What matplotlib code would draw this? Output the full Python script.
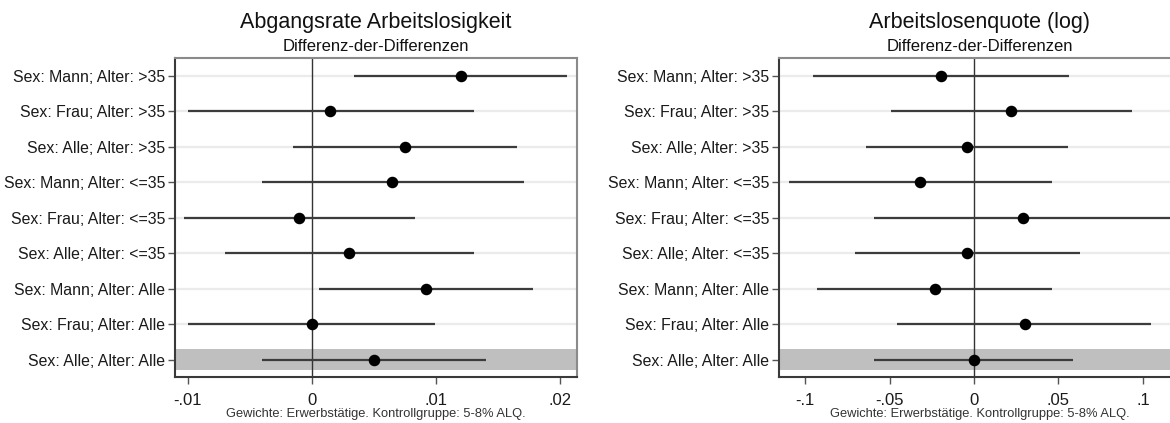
import numpy as np
import matplotlib.pyplot as plt

plt.rcParams['font.family'] = ['Liberation Sans', 'DejaVu Sans']

labels = ["Sex: Mann; Alter: >35", "Sex: Frau; Alter: >35", "Sex: Alle; Alter: >35",
          "Sex: Mann; Alter: <=35", "Sex: Frau; Alter: <=35", "Sex: Alle; Alter: <=35",
          "Sex: Mann; Alter: Alle", "Sex: Frau; Alter: Alle", "Sex: Alle; Alter: Alle"]

# Abgangsrate Arbeitslosigkeit
abg_est = [0.0120, 0.0015, 0.0075, 0.0065, -0.0010, 0.0030, 0.0092, 0.0000, 0.0050]
abg_lo = [0.0034, -0.0100, -0.0015, -0.0040, -0.0103, -0.0070, 0.0006, -0.0100, -0.0040]
abg_hi = [0.0206, 0.0131, 0.0165, 0.0171, 0.0083, 0.0131, 0.0178, 0.0099, 0.0140]
abg_ticks = [-0.01, 0, 0.01, 0.02]
abg_ticklabels = ["-.01", "0", ".01", ".02"]

# Arbeitslosenquote (log)
alq_est = [-0.0193, 0.0220, -0.0044, -0.0321, 0.0290, -0.0040, -0.0231, 0.0299, 0.0000]
alq_lo = [-0.0952, -0.0492, -0.0640, -0.1097, -0.0589, -0.0703, -0.0932, -0.0457, -0.0589]
alq_hi = [0.0565, 0.0936, 0.0554, 0.0459, 0.118, 0.0625, 0.0460, 0.1045, 0.0586]
alq_ticks = [-0.1, -0.05, 0, 0.05, 0.1]
alq_ticklabels = ["-.1", "-.05", "0", ".05", ".1"]

footnote = "Gewichte: Erwerbstätige. Kontrollgruppe: 5-8% ALQ."

fig = plt.figure(figsize=(11.7, 4.23), dpi=100)


def panel(rect, est, lo, hi, xlim, ticks, ticklabels, title):
    ax = fig.add_axes(rect)
    y = np.arange(1, len(labels) + 1)
    for yy in y:
        ax.axhline(yy, color='#ebebeb', lw=1.6, zorder=0)
    ax.axhspan(y[-1] - 0.3, y[-1] + 0.3, color='#bfbfbf', lw=0, zorder=1)
    ax.axvline(0, color='#333333', lw=1.0, zorder=2)
    ax.hlines(y, lo, hi, color='#3c3c3c', lw=1.6, zorder=3)
    ax.plot(est, y, 'o', color='black', ms=7.3, zorder=4)
    ax.set_ylim(len(labels) + 0.5, 0.5)
    ax.set_xlim(*xlim)
    ax.set_yticks(y)
    ax.set_yticklabels(labels, fontsize=11.4, color='#1a1a1a')
    ax.set_xticks(ticks)
    ax.set_xticklabels(ticklabels, fontsize=12, color='#1a1a1a')
    ax.tick_params(axis='y', length=5, width=1, color='#555555', pad=2)
    ax.tick_params(axis='x', length=5, width=1, color='#555555', pad=6)
    for s in ['left', 'bottom']:
        ax.spines[s].set_color('#3a3a3a')
        ax.spines[s].set_linewidth(1.5)
    for s in ['top', 'right']:
        ax.spines[s].set_color('#8a8a8a')
        ax.spines[s].set_linewidth(1.5)
    cx = rect[0] + rect[2] / 2
    fig.text(cx, 0.946, title, ha='center', va='center', fontsize=15.5, color='#111111')
    fig.text(cx, 0.889, "Differenz-der-Differenzen", ha='center', va='center',
             fontsize=12, color='#111111')
    fig.text(cx, 0.022, footnote, ha='center', va='center', fontsize=9.3, color='#333333')
    return ax


panel([0.1496, 0.1076, 0.3436, 0.7553], abg_est, abg_lo, abg_hi,
      (-0.01102, 0.02137), abg_ticks, abg_ticklabels, "Abgangsrate Arbeitslosigkeit")
panel([0.6658, 0.1076, 0.3436, 0.7553], alq_est, alq_lo, alq_hi,
      (-0.1154, 0.1225), alq_ticks, alq_ticklabels, "Arbeitslosenquote (log)")

fig.savefig('out.png', dpi=100)
